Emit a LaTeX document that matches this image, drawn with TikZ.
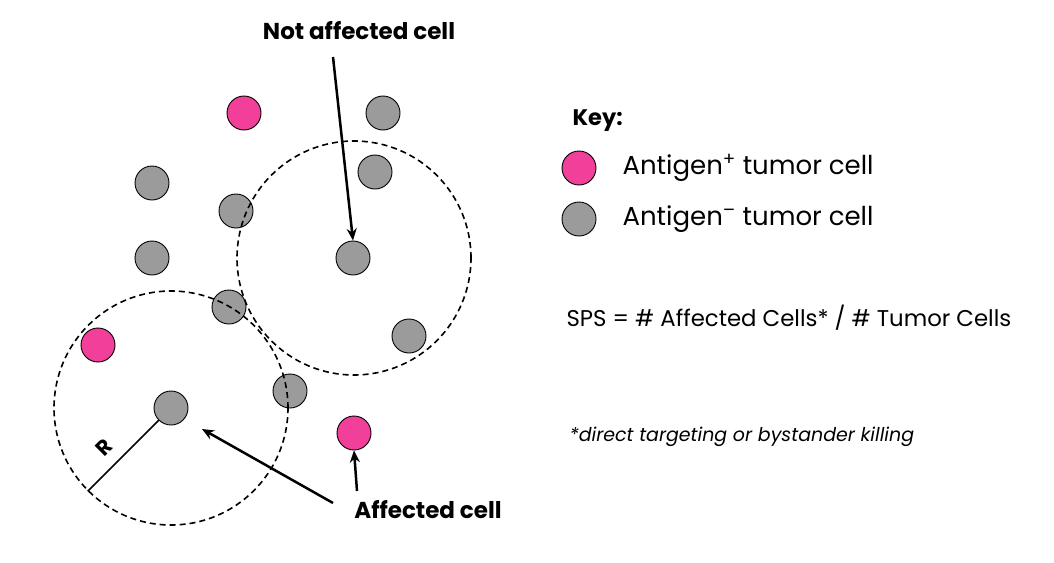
\documentclass[tikz,border=0pt]{standalone}
\usepackage{fontspec}
\setmainfont{Poppins}
\usetikzlibrary{arrows.meta}
\definecolor{pinkcell}{HTML}{F2409A}
\definecolor{graycell}{HTML}{9B9B9B}
\begin{document}
\begin{tikzpicture}[x=1pt,y=-1pt,
  poscell/.style={circle,draw=black,line width=0.9pt,fill=pinkcell,minimum size=34pt,inner sep=0pt},
  negcell/.style={circle,draw=black,line width=0.9pt,fill=graycell,minimum size=34pt,inner sep=0pt},
  zone/.style={circle,draw=black,line width=1.6pt,dash pattern=on 6pt off 4pt,inner sep=0pt,minimum size=234pt},
  pointer/.style={line width=2.5pt,-{Stealth[length=12pt,width=10pt]}},
  lbl/.style={font=\fontsize{23}{28}\selectfont\bfseries,anchor=center},
  keytxt/.style={font=\fontsize{26}{31}\selectfont,anchor=west},
  every node/.style={text=black}]
\useasboundingbox[fill=white] (0,0) rectangle (1054,562);
% cells
\node[poscell] (p1) at (244,113) {};
\node[negcell] (g1) at (383,113) {};
\node[negcell] (g2) at (375,172) {};
\node[negcell] (g3) at (152,183) {};
\node[negcell] (g4) at (236,211) {};
\node[negcell] (g5) at (152,258) {};
\node[negcell] (g6) at (353,258) {};
\node[negcell] (g7) at (229,307) {};
\node[negcell] (g8) at (409,336) {};
\node[poscell] (p2) at (98,345) {};
\node[negcell] (g9) at (290,391) {};
\node[negcell] (g10) at (171,408) {};
\node[poscell] (p3) at (354,433) {};
% zones
\node[zone] (z1) at (354,258) {};
\node[zone] (z2) at (171,408) {};
% radius
\draw[line width=1.6pt] (g10) -- (z2.225);
\node[rotate=45,font=\fontsize{21}{24}\selectfont\bfseries] (rl) at (104,447) {R};
% labels
\node[lbl] (nal) at (359,31) {Not affected cell};
\node[lbl] (al) at (428,510) {Affected cell};
\coordinate (nastart) at (333,57);
\coordinate (astart) at (333,503);
\coordinate (atip) at (202,429);
\coordinate (bstart) at (357,491);
\draw[pointer] (nastart) -- (g6.north);
\draw[pointer] (astart) -- (atip);
\draw[pointer] (bstart) -- (p3.south);
% key
\node[font=\fontsize{22.5}{27}\selectfont\bfseries,anchor=west] (key) at (569,121) {Key:};
\node[poscell] (kp) at (579,168) {};
\node[negcell] (kn) at (579,219) {};
\node[keytxt] (kpt) at (619,168) {Antigen\textsuperscript{+} tumor cell};
\node[keytxt] (knt) at (619,219) {Antigen\textsuperscript{–} tumor cell};
\node[font=\fontsize{22.8}{27}\selectfont,anchor=west] (sps) at (563,318) {SPS = \# Affected Cells* / \# Tumor Cells};
\node[font=\fontsize{19}{23}\selectfont\itshape,anchor=west] (fn) at (566,437) {*direct targeting or bystander killing};
\end{tikzpicture}
\end{document}
